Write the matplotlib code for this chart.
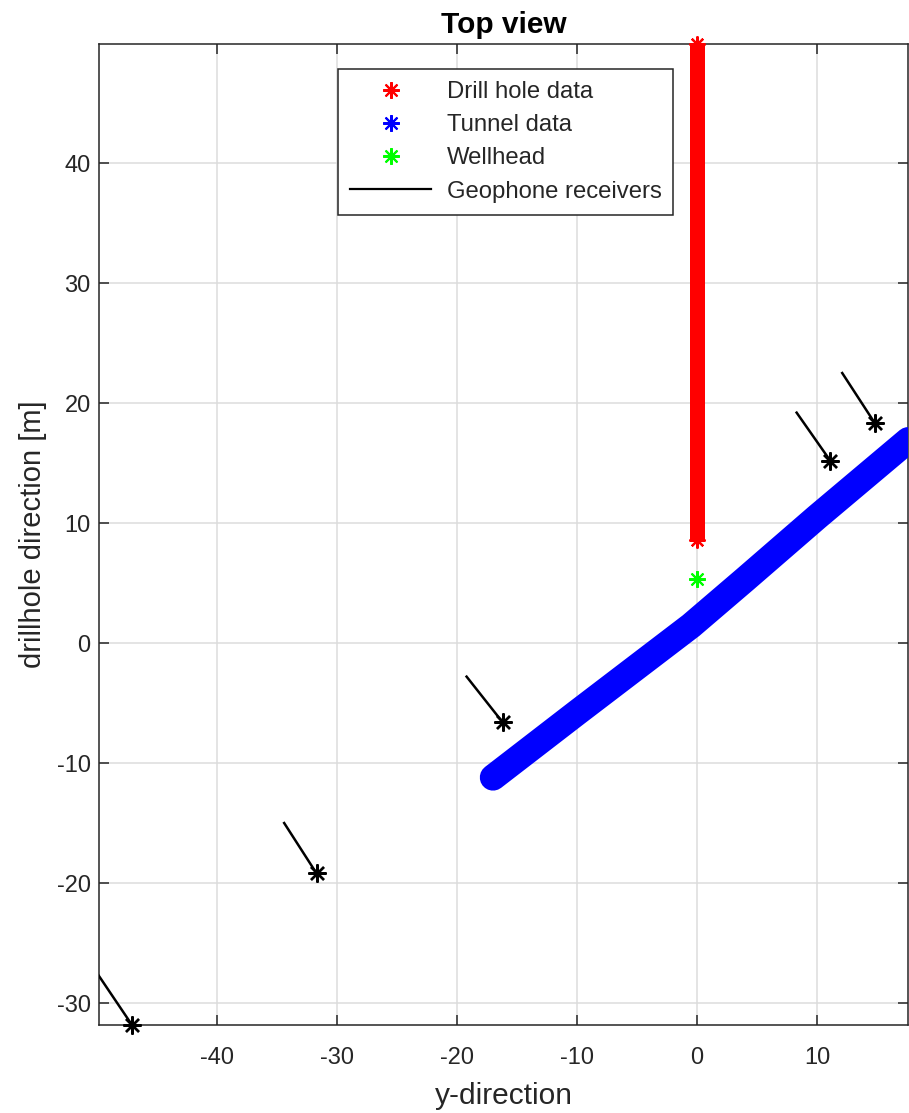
import matplotlib
matplotlib.use('Agg')
import matplotlib.pyplot as plt
from matplotlib.lines import Line2D

plt.rcParams['font.family'] = ['Liberation Sans', 'DejaVu Sans']
plt.rcParams['axes.unicode_minus'] = False

# drill hole trace (along drillhole direction, y = 0)
drill_y = [0.0, 0.0]
drill_x = [8.6, 49.9]

# tunnel centre line
tunnel_y = [-17.0, -10.0, -0.5, 4.0, 10.0, 17.6]
tunnel_x = [-11.2, -5.8, 1.45, 5.3, 10.5, 16.9]

# wellhead
well_y = [0.0]
well_x = [5.33]

# geophone receivers: position and end of the orientation stick
geo_y = [-47.1, -31.7, -16.2, 11.1, 14.8]
geo_x = [-31.8, -19.2, -6.6, 15.2, 18.35]
geo_end_y = [-50.2, -34.4, -19.2, 8.3, 12.1]
geo_end_x = [-27.2, -15.0, -2.8, 19.2, 22.5]

ASTER = (8, 2, 0)
dark = '#262626'

fig = plt.figure(figsize=(9.09, 11.13), dpi=100)
ax = fig.add_axes([99/909, 1 - 1025/1113, 809/909, 981/1113])

ax.plot(drill_y, drill_x, color='red', lw=10.8, solid_capstyle='butt',
        marker=ASTER, ms=11.5, mew=1.6, markevery=[0, -1], clip_on=False, zorder=3)
ax.plot(tunnel_y, tunnel_x, color='blue', lw=19, solid_capstyle='round',
        solid_joinstyle='round', zorder=3)
ax.plot(well_y, well_x, ls='none', color='#00ff00', marker=ASTER, ms=12, mew=1.5, zorder=4)

for gy, gx, ey, ex in zip(geo_y, geo_x, geo_end_y, geo_end_x):
    ax.plot([gy, ey], [gx, ex], color='black', lw=1.8, zorder=4)
ax.plot(geo_y, geo_x, ls='none', color='black', marker=ASTER, ms=13, mew=1.7,
        clip_on=False, zorder=5)

ax.set_xlim(-49.83, 17.58)
ax.set_ylim(-31.83, 49.92)
ax.set_xticks([-40, -30, -20, -10, 0, 10])
ax.set_yticks([-30, -20, -10, 0, 10, 20, 30, 40])

ax.grid(True, color='#dcdcdc', lw=1.1)
ax.set_axisbelow(True)
for s in ax.spines.values():
    s.set_color(dark)
    s.set_linewidth(1.1)
ax.tick_params(direction='in', length=7, width=1.1, colors=dark,
               top=True, right=True, labelsize=17)
ax.tick_params(axis='x', pad=16)
ax.tick_params(axis='y', pad=6)

ax.set_xlabel('y-direction', fontsize=21.5, color=dark, labelpad=9)
ax.set_ylabel('drillhole direction [m]', fontsize=21, color=dark, labelpad=7)
ax.set_title('Top view', fontsize=21.5, fontweight='bold', pad=8)

handles = [
    Line2D([], [], ls='none', color='red', marker=ASTER, ms=12, mew=1.5),
    Line2D([], [], ls='none', color='blue', marker=ASTER, ms=12, mew=1.5),
    Line2D([], [], ls='none', color='#00ff00', marker=ASTER, ms=12, mew=1.5),
    Line2D([], [], color='black', lw=1.6),
]
labels = ['Drill hole data', 'Tunnel data', 'Wellhead', 'Geophone receivers']
leg = ax.legend(handles, labels, loc='upper left', bbox_to_anchor=(0.2954, 0.9745),
                borderaxespad=0, fontsize=17.2, fancybox=False, framealpha=1,
                edgecolor=dark, handlelength=3.4, handletextpad=0.65,
                labelspacing=0.47, borderpad=0.5)
leg.get_frame().set_linewidth(1.1)
for t in leg.get_texts():
    t.set_color(dark)

fig.savefig('out.png', dpi=100)
